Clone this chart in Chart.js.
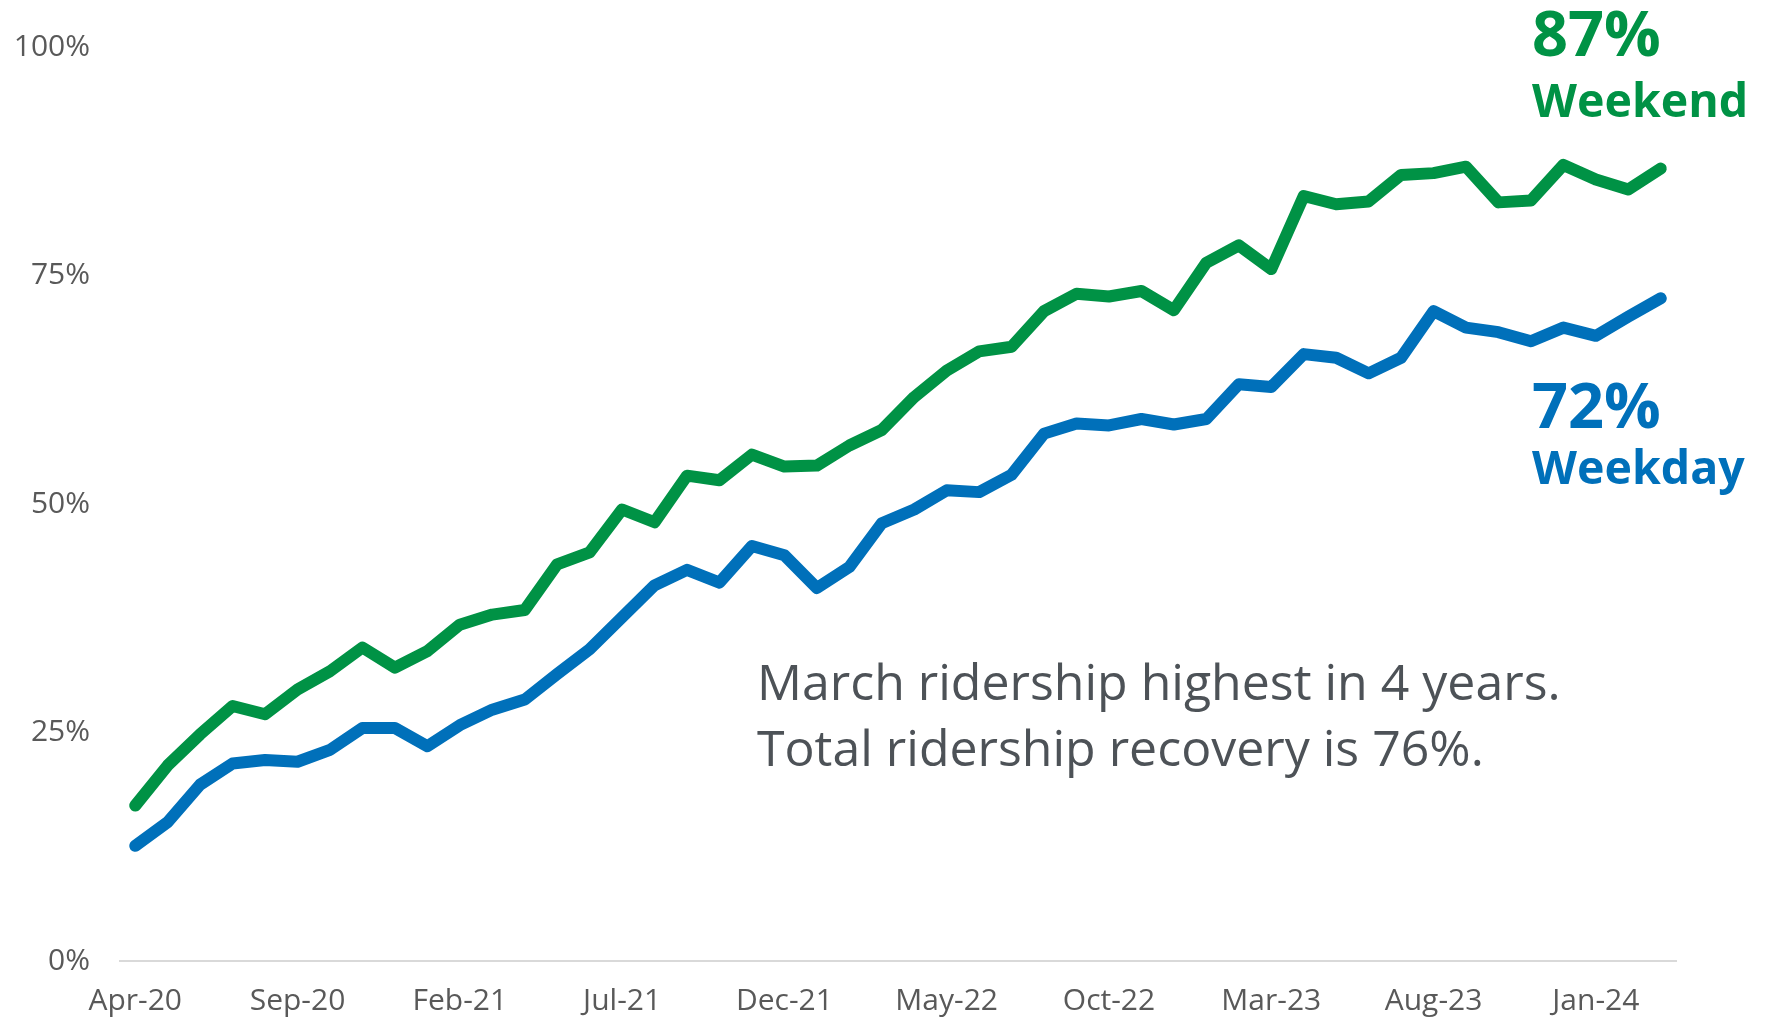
<!DOCTYPE html>
<html>
<head>
<meta charset="utf-8">
<script src="https://cdn.jsdelivr.net/npm/chart.js@4.4.1/dist/chart.umd.min.js"></script>
<style>
html,body{margin:0;padding:0;background:#fff;}
#wrap{width:1766px;height:1019px;position:relative;}
</style>
</head>
<body>
<div id="wrap"><canvas id="c" width="1766" height="1019"></canvas></div>
<script>
const months = ["Apr-20","May-20","Jun-20","Jul-20","Aug-20","Sep-20","Oct-20","Nov-20","Dec-20","Jan-21","Feb-21","Mar-21",
"Apr-21","May-21","Jun-21","Jul-21","Aug-21","Sep-21","Oct-21","Nov-21","Dec-21","Jan-22","Feb-22","Mar-22",
"Apr-22","May-22","Jun-22","Jul-22","Aug-22","Sep-22","Oct-22","Nov-22","Dec-22","Jan-23","Feb-23","Mar-23",
"Apr-23","May-23","Jun-23","Jul-23","Aug-23","Sep-23","Oct-23","Nov-23","Dec-23","Jan-24","Feb-24","Mar-24"];
const weekend = [17.0,21.4,24.8,27.9,27.0,29.7,31.7,34.3,32.1,33.9,36.8,37.9,
38.4,43.4,44.7,49.4,48.0,53.1,52.6,55.4,54.1,54.2,56.4,58.1,
61.7,64.6,66.7,67.2,71.1,73.0,72.7,73.3,71.2,76.4,78.3,75.7,
83.7,82.8,83.1,86.0,86.2,86.9,83.0,83.2,87.1,85.5,84.4,86.7];
const weekday = [12.6,15.2,19.3,21.6,22.0,21.8,23.1,25.5,25.5,23.5,25.8,27.5,
28.6,31.4,34.1,37.6,41.1,42.8,41.4,45.4,44.4,40.8,43.1,47.9,
49.4,51.5,51.3,53.2,57.7,58.8,58.6,59.3,58.7,59.3,63.1,62.8,
66.4,66.0,64.3,66.0,71.1,69.3,68.8,67.8,69.3,68.4,70.5,72.5];
const yTicks = [0,25,50,75,100];
const labelEvery = 5;
const endLabels = [
  {value:"87%", name:"Weekend", color:"#009245"},
  {value:"72%", name:"Weekday", color:"#0070BA"}
];
const noteLines = ["March ridership highest in 4 years.","Total ridership recovery is 76%."];

const FONT = "'Segoe UI','Open Sans',sans-serif";

const annot = {
  id:'annot',
  afterDraw(chart){
    const ctx = chart.ctx;
    const ca = chart.chartArea;
    ctx.save();
    ctx.textAlign='left';
    ctx.textBaseline='alphabetic';
    const lx = ca.right - 145;
    ctx.fillStyle = endLabels[0].color;
    ctx.font = "bold 63px " + FONT;
    ctx.fillText(endLabels[0].value, lx, 56);
    ctx.font = "bold 46.5px " + FONT;
    ctx.fillText(endLabels[0].name, lx, 117);
    ctx.fillStyle = endLabels[1].color;
    ctx.font = "bold 63px " + FONT;
    ctx.fillText(endLabels[1].value, lx, 428);
    ctx.font = "bold 46.5px " + FONT;
    ctx.fillText(endLabels[1].name, lx, 484);
    ctx.fillStyle = "#4d5257";
    ctx.font = "50px " + FONT;
    ctx.fillText(noteLines[0], 757, 700);
    ctx.fillText(noteLines[1], 757, 766);
    ctx.restore();
  }
};

new Chart(document.getElementById('c'), {
  type:'line',
  data:{
    labels: months,
    datasets:[
      {label:'Weekend', data: weekend, borderColor:'#009245', borderWidth:12, pointRadius:0, tension:0,
       borderCapStyle:'round', borderJoinStyle:'round', fill:false},
      {label:'Weekday', data: weekday, borderColor:'#0070BA', borderWidth:12, pointRadius:0, tension:0,
       borderCapStyle:'round', borderJoinStyle:'round', fill:false}
    ]
  },
  options:{
    responsive:false,
    animation:false,
    devicePixelRatio:1,
    layout:{padding:{top:43,right:89,bottom:0,left:0}},
    plugins:{legend:{display:false},tooltip:{enabled:false},title:{display:false}},
    scales:{
      x:{
        offset:true,
        grid:{display:false, drawTicks:false},
        border:{display:false},
        ticks:{
          autoSkip:false, maxRotation:0, minRotation:0, padding:22,
          color:'#595959', font:{family:FONT, size:30},
          callback:function(v,i){ return i % labelEvery === 0 ? months[i] : ''; }
        },
        afterFit:function(s){ s.height = 58; }
      },
      y:{
        min:0, max:100,
        afterBuildTicks:function(s){ s.ticks = yTicks.map(v=>({value:v})); },
        grid:{
          drawTicks:false,
          color:function(c){ return c.tick && c.tick.value===0 ? '#d9d9d9' : 'rgba(0,0,0,0)'; },
          lineWidth:2
        },
        border:{display:false},
        ticks:{
          padding:29, color:'#595959', font:{family:FONT, size:30},
          callback:function(v){ return v + '%'; }
        },
        afterFit:function(s){ s.width = 119; }
      }
    }
  },
  plugins:[annot]
});
</script>
</body>
</html>
